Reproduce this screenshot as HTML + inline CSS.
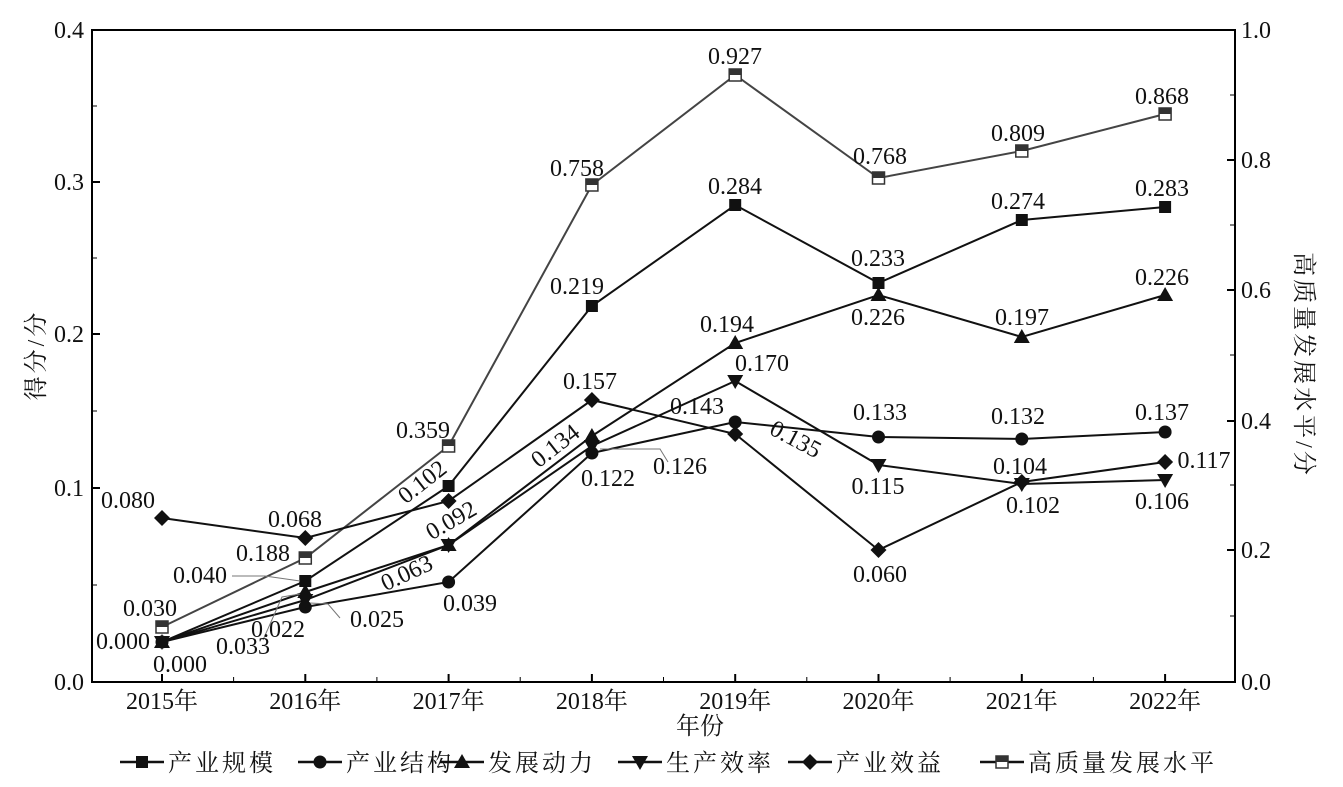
<!DOCTYPE html><html><head><meta charset="utf-8"><style>body{margin:0;background:#fff}svg{display:block}text{font-family:"Liberation Serif","Noto Serif CJK SC",serif;font-size:24px;fill:#111}.cj{letter-spacing:3px}</style></head><body>
<svg id="s" width="1343" height="787" xmlns="http://www.w3.org/2000/svg"></svg>
<script>
const s=document.getElementById('s');let h='';
const X=i=>162+i*143.3;
h+='<rect x="92" y="30" width="1143" height="652" fill="none" stroke="#000" stroke-width="2"/>';
[[682,'0.0'],[488,'0.1'],[334,'0.2'],[182,'0.3'],[30,'0.4']].forEach(([y,t])=>{h+=`<line x1="92" x2="100" y1="${y}" y2="${y}" stroke="#000" stroke-width="2"/><text x="84" y="${y+8}" text-anchor="end">${t}</text>`});
[585,411,258,106].forEach(y=>h+=`<line x1="92" x2="97" y1="${y}" y2="${y}" stroke="#000"/>`);
[[682,'0.0'],[550,'0.2'],[421,'0.4'],[290,'0.6'],[160,'0.8'],[30,'1.0']].forEach(([y,t])=>{h+=`<line x1="1227" x2="1235" y1="${y}" y2="${y}" stroke="#000" stroke-width="2"/><text x="1241" y="${y+8}">${t}</text>`});
[616,485,355,225,95].forEach(y=>h+=`<line x1="1230" x2="1235" y1="${y}" y2="${y}" stroke="#000"/>`);
for(let i=0;i<8;i++){h+=`<line x1="${X(i)}" x2="${X(i)}" y1="682" y2="674" stroke="#000" stroke-width="2"/><text x="${X(i)}" y="709" text-anchor="middle">${2015+i}年</text>`;
if(i<7)h+=`<line x1="${X(i)+71.6}" x2="${X(i)+71.6}" y1="682" y2="677" stroke="#000"/>`;}
h+='<text x="700" y="734" text-anchor="middle">年份</text>';
h+='<text class="cj" transform="translate(44,355) rotate(-90)" text-anchor="middle">得分/分</text>';
h+='<text class="cj" transform="translate(1296,365) rotate(90)" text-anchor="middle">高质量发展水平/分</text>';
const S={
q:[627,558,446,185,75,178,151,114],
a:[642,581,486,306,205,283,220,207],
b:[642,607,582,453,422,437,439,432],
c:[642,592,545,436,343,295,337,295],
d:[642,600,545,446,381,465,484,480],
e:[518,538,501,400,434,550,482,462]};
function mk(t,x,y){
 if(t=='a')return `<rect x="${x-6}" y="${y-6}" width="12" height="12" fill="#111"/>`;
 if(t=='b')return `<circle cx="${x}" cy="${y}" r="6.5" fill="#111"/>`;
 if(t=='c')return `<polygon points="${x},${y-8} ${x+8},${y+6} ${x-8},${y+6}" fill="#111"/>`;
 if(t=='d')return `<polygon points="${x},${y+8} ${x+8},${y-6} ${x-8},${y-6}" fill="#111"/>`;
 if(t=='e')return `<polygon points="${x},${y-8} ${x+8},${y} ${x},${y+8} ${x-8},${y}" fill="#111"/>`;
 return `<rect x="${x-6}" y="${y-6}" width="12" height="12" fill="#fff" stroke="#333" stroke-width="1.5"/><rect x="${x-6}" y="${y-6}" width="12" height="6" fill="#333"/>`;
}
for(const k of ['q','a','b','c','d','e']){const p=S[k].map((y,i)=>X(i)+','+y).join(' ');
h+=`<polyline points="${p}" fill="none" stroke="${k=='q'?'#444':'#111'}" stroke-width="2"/>`;}
for(const k of ['q','a','b','c','d','e'])S[k].forEach((y,i)=>h+=mk(k,X(i),y));
h+='<polyline points="232,576 265,576 300,581" fill="none" stroke="#777"/><polyline points="263,640 282,597 300,594" fill="none" stroke="#777"/><polyline points="340,618 328,604 310,603" fill="none" stroke="#777"/><polyline points="668,462 660,449 600,449" fill="none" stroke="#777"/>';
const L=[['0.927',735,64],['0.758',577,176],['0.768',880,164],['0.809',1018,141],['0.868',1162,104],
['0.284',735,194],['0.219',577,294],['0.233',878,266],['0.274',1018,209],['0.283',1162,196],
['0.194',727,332],['0.170',762,371],['0.226',878,325],['0.197',1022,325],['0.226',1162,285],
['0.157',590,389],['0.143',697,414],['0.133',880,420],['0.132',1018,424],['0.137',1162,420],
['0.359',423,438],['0.122',608,486],['0.126',680,474],['0.115',878,494],['0.104',1020,474],['0.117',1204,468],['0.102',1033,513],['0.106',1162,509],['0.060',880,582],
['0.080',128,508],['0.068',295,527],['0.188',263,561],['0.040',200,583],['0.030',150,616],['0.000',123,649],['0.000',180,672],['0.033',243,654],['0.022',278,637],['0.025',377,627],['0.039',470,611]];
L.forEach(([t,x,y])=>h+=`<text x="${x}" y="${y}" text-anchor="middle">${t}</text>`);
[['0.102',427,488,-38],['0.092',455,527,-30],['0.063',410,580,-25],['0.134',560,452,-38],['0.135',792,446,28]].forEach(([t,x,y,r])=>h+=`<text transform="translate(${x},${y}) rotate(${r})" text-anchor="middle">${t}</text>`);
const lg=[['a',120,'产业规模'],['b',298,'产业结构'],['c',440,'发展动力'],['d',618,'生产效率'],['e',788,'产业效益'],['q',980,'高质量发展水平']];
lg.forEach(([k,x,t])=>{h+=`<line x1="${x}" x2="${x+44}" y1="762" y2="762" stroke="#111" stroke-width="2.5"/>`+mk(k,x+22,762)+`<text class="cj" x="${x+48}" y="771">${t}</text>`});
s.innerHTML=h;
</script></body></html>
